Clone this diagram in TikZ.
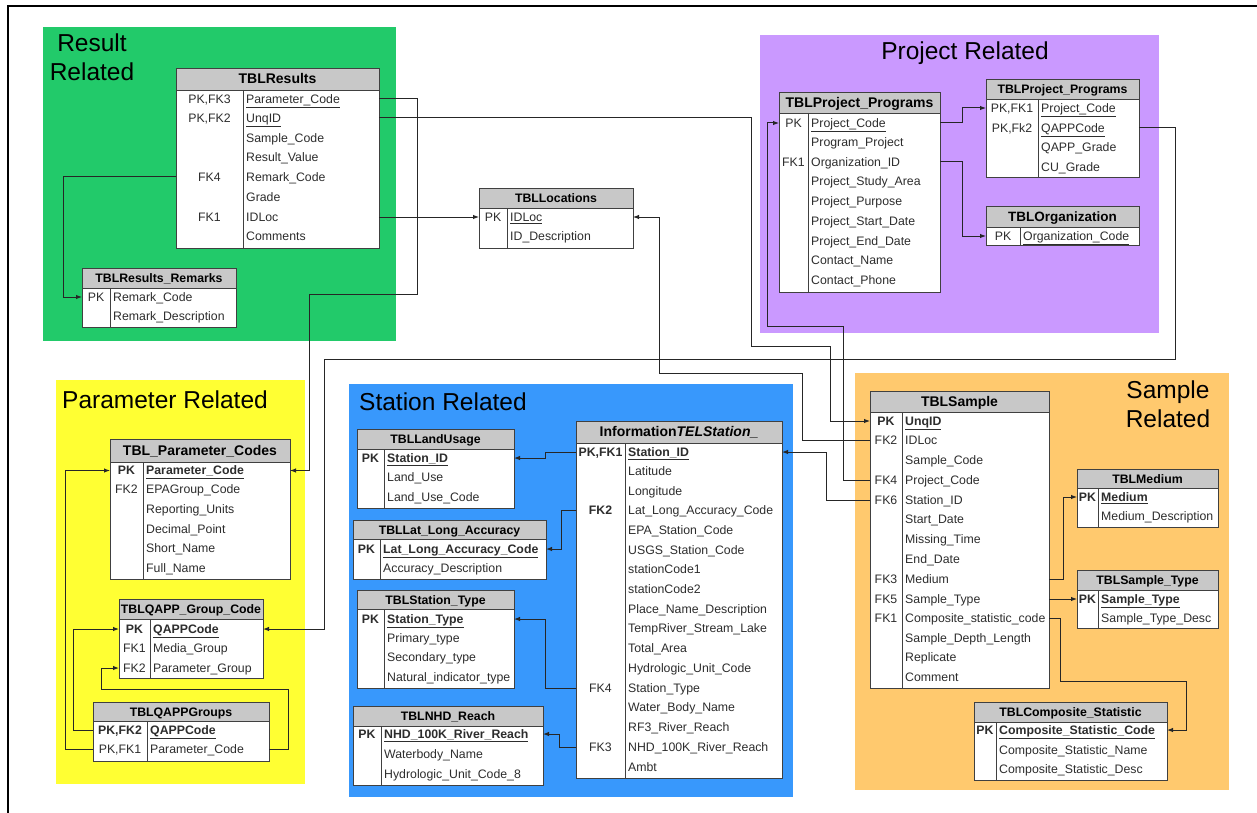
\documentclass[tikz,border=0pt]{standalone}
\usepackage{fontspec}
\setmainfont{Liberation Sans}
\usetikzlibrary{arrows.meta}
\definecolor{grpGreen}{RGB}{34,202,106}
\definecolor{grpPurple}{RGB}{202,153,255}
\definecolor{grpYellow}{RGB}{255,255,51}
\definecolor{grpBlue}{RGB}{56,152,252}
\definecolor{grpOrange}{RGB}{255,201,110}
\definecolor{hdrgray}{RGB}{200,200,200}
\definecolor{txtgray}{RGB}{45,45,45}
\tikzset{
 conn/.style={draw=black!85, line width=1pt, -{Latex[length=6pt,width=4.5pt]}},
 plainconn/.style={draw=black!85, line width=1pt},
 tabline/.style={draw=black!75, line width=0.9pt},
 rowbox/.style={inner sep=0pt, outer sep=0pt, minimum height=18pt},
 keytxt/.style={inner sep=0pt, text height=8.8pt, text depth=0pt, text=txtgray, font=\fontsize{12.3}{14}\selectfont},
 fldtxt/.style={keytxt, anchor=west},
 hdrtxt/.style={inner sep=0pt, text height=9.5pt, text depth=0pt, text=black},
 grptitle/.style={inner sep=0pt, text=black, font=\fontsize{24.5}{29}\selectfont},
}
% #1 name #2 left #3 right #4 top #5 header bottom #6 bottom #7 divider #8 header size #9 title
\newcommand{\dbtab}[9]{%
  \def\tabL{#2}\def\tabR{#3}\def\tabD{#7}%
  \fill[white] (#2,#5) rectangle (#3,#6);
  \fill[hdrgray] (#2,#4) rectangle (#3,#5);
  \draw[tabline] (#2,#5) -- (#3,#5);
  \draw[tabline] (#7,#5) -- (#7,#6);
  \draw[tabline] (#2,#4) rectangle (#3,#6);
  \node[hdrtxt, font=\bfseries\fontsize{#8}{#8}\selectfont] (#1) at ({(#2+#3)/2},{(#4+#5)/2}) {#9};
}
% #1 name #2 y #3 key #4 field
\newcommand{\dbrow}[4]{%
  \node[rowbox, minimum width={(\tabR-\tabL)*1pt}] (#1) at ({(\tabL+\tabR)/2},#2) {};
  \node[keytxt] (#1-k) at ({(\tabL+\tabD)/2},#2) {#3};
  \node[fldtxt] (#1-f) at ({\tabD+3},#2) {#4};
}
\begin{document}
\begin{tikzpicture}[x=1pt,y=-1pt]
\useasboundingbox (0,0) rectangle (1257,813);
\fill[white] (0,0) rectangle (1257,813);
\draw[line width=1.5pt] (8,813) -- (8,6) -- (1257,6);

% group backgrounds
\fill[grpGreen] (43,27) rectangle (396,341);
\fill[grpPurple] (760,35) rectangle (1159,333);
\fill[grpYellow] (56,380) rectangle (305,784);
\fill[grpBlue] (349,384) rectangle (793,797);
\fill[grpOrange] (855,373) rectangle (1229,790);

\node[grptitle, align=center] (ttl-result) at (92,57.5) {Result\\Related};
\node[grptitle] (ttl-project) at (965,53) {Project Related};
\node[grptitle, anchor=west] (ttl-param) at (62,400) {Parameter Related};
\node[grptitle, anchor=west] (ttl-station) at (359,402) {Station Related};
\node[grptitle, align=center] (ttl-sample) at (1168,404) {Sample\\Related};

% ---------- Result related
\dbtab{tResults}{176}{379}{68}{90}{248}{243}{14}{TBLResults}
\dbrow{res-pc}{99}{PK,FK3}{\underline{Parameter\_Code}}
\dbrow{res-unq}{118}{PK,FK2}{\underline{UnqID}}
\dbrow{res-sc}{138}{}{Sample\_Code}
\dbrow{res-rv}{157}{}{Result\_Value}
\dbrow{res-rc}{177}{FK4}{Remark\_Code}
\dbrow{res-gr}{197}{}{Grade}
\dbrow{res-idl}{217}{FK1}{IDLoc}
\dbrow{res-com}{236}{}{Comments}

\dbtab{tRemarks}{82}{236}{268}{288}{327}{110}{12.3}{TBLResults\_Remarks}
\dbrow{rem-rc}{297}{PK}{Remark\_Code}
\dbrow{rem-rd}{316}{}{Remark\_Description}

% ---------- Locations
\dbtab{tLoc}{479}{633}{188}{208}{248}{507}{12.3}{TBLLocations}
\dbrow{loc-id}{217}{PK}{\underline{IDLoc}}
\dbrow{loc-desc}{236}{}{ID\_Description}

% ---------- Project related
\dbtab{tPP}{779}{940}{92}{113}{292}{808}{14}{TBLProject\_Programs}
\dbrow{pp-pc}{123}{PK}{\underline{Project\_Code}}
\dbrow{pp-prog}{142}{}{Program\_Project}
\dbrow{pp-org}{162}{FK1}{Organization\_ID}
\dbrow{pp-sa}{181}{}{Project\_Study\_Area}
\dbrow{pp-pu}{201}{}{Project\_Purpose}
\dbrow{pp-sd}{221}{}{Project\_Start\_Date}
\dbrow{pp-ed}{241}{}{Project\_End\_Date}
\dbrow{pp-cn}{260}{}{Contact\_Name}
\dbrow{pp-cp}{280}{}{Contact\_Phone}

\dbtab{tPP2}{986}{1139}{79}{99}{177}{1038}{12.3}{TBLProject\_Programs}
\dbrow{pp2-pc}{108}{PK,FK1}{\underline{Project\_Code}}
\dbrow{pp2-q}{128}{PK,Fk2}{\underline{QAPPCode}}
\dbrow{pp2-qg}{147}{}{QAPP\_Grade}
\dbrow{pp2-cu}{167}{}{CU\_Grade}

\dbtab{tOrg}{986}{1139}{206}{227}{245}{1020}{13.5}{TBLOrganization}
\dbrow{org-oc}{236}{PK}{\underline{Organization\_Code}}

% ---------- Parameter related
\dbtab{tPC}{110}{290}{439}{462}{579}{143}{14}{TBL\_Parameter\_Codes}
\dbrow{pc-pc}{470.5}{\textbf{PK}}{\textbf{\underline{Parameter\_Code}}}
\dbrow{pc-epa}{489}{FK2}{EPAGroup\_Code}
\dbrow{pc-ru}{509}{}{Reporting\_Units}
\dbrow{pc-dp}{529}{}{Decimal\_Point}
\dbrow{pc-sn}{548}{}{Short\_Name}
\dbrow{pc-fn}{568}{}{Full\_Name}

\dbtab{tQG}{119}{263}{599}{619}{678}{150}{12.3}{TBLQAPP\_Group\_Code}
\dbrow{qg-q}{629}{\textbf{PK}}{\textbf{\underline{QAPPCode}}}
\dbrow{qg-mg}{648}{FK1}{Media\_Group}
\dbrow{qg-pg}{668}{FK2}{Parameter\_Group}

\dbtab{tQGS}{93}{269}{702}{721}{761}{147}{12.3}{TBLQAPPGroups}
\dbrow{qgs-q}{730}{\textbf{PK,FK2}}{\textbf{\underline{QAPPCode}}}
\dbrow{qgs-pc}{749}{PK,FK1}{Parameter\_Code}

% ---------- Station related
\dbtab{tLU}{357}{514}{429}{449}{508}{384}{12.3}{TBLLandUsage}
\dbrow{lu-sid}{458}{\textbf{PK}}{\textbf{\underline{Station\_ID}}}
\dbrow{lu-lu}{477}{}{Land\_Use}
\dbrow{lu-luc}{497}{}{Land\_Use\_Code}

\dbtab{tLLA}{353}{546}{520}{539}{579}{380}{12.3}{TBLLat\_Long\_Accuracy}
\dbrow{lla-c}{549}{\textbf{PK}}{\textbf{\underline{Lat\_Long\_Accuracy\_Code}}}
\dbrow{lla-d}{568}{}{Accuracy\_Description}

\dbtab{tST}{357}{514}{590}{609}{688}{384}{12.3}{TBLStation\_Type}
\dbrow{st-st}{619}{\textbf{PK}}{\textbf{\underline{Station\_Type}}}
\dbrow{st-pt}{638}{}{Primary\_type}
\dbrow{st-se}{657}{}{Secondary\_type}
\dbrow{st-ni}{677}{}{Natural\_indicator\_type}

\dbtab{tNHD}{353}{543}{706}{726}{785}{381}{12.3}{TBLNHD\_Reach}
\dbrow{nhd-r}{734}{\textbf{PK}}{\textbf{\underline{NHD\_100K\_River\_Reach}}}
\dbrow{nhd-wb}{754}{}{Waterbody\_Name}
\dbrow{nhd-hu}{774}{}{Hydrologic\_Unit\_Code\_8}

\dbtab{tInf}{576}{782}{421}{443}{778}{625}{14}{Information\textit{TELStation\_}}
\dbrow{inf-sid}{452}{\textbf{PK,FK1}}{\textbf{\underline{Station\_ID}}}
\dbrow{inf-lat}{471}{}{Latitude}
\dbrow{inf-lon}{491}{}{Longitude}
\dbrow{inf-lla}{510}{\textbf{FK2}}{Lat\_Long\_Accuracy\_Code}
\dbrow{inf-epa}{530}{}{EPA\_Station\_Code}
\dbrow{inf-usgs}{550}{}{USGS\_Station\_Code}
\dbrow{inf-sc1}{569}{}{stationCode1}
\dbrow{inf-sc2}{589}{}{stationCode2}
\dbrow{inf-pnd}{609}{}{Place\_Name\_Description}
\dbrow{inf-tr}{628}{}{TempRiver\_Stream\_Lake}
\dbrow{inf-ta}{648}{}{Total\_Area}
\dbrow{inf-huc}{668}{}{Hydrologic\_Unit\_Code}
\dbrow{inf-st}{688}{FK4}{Station\_Type}
\dbrow{inf-wb}{707}{}{Water\_Body\_Name}
\dbrow{inf-rf3}{727}{}{RF3\_River\_Reach}
\dbrow{inf-nhd}{747}{FK3}{NHD\_100K\_River\_Reach}
\dbrow{inf-amb}{767}{}{Ambt}

% ---------- Sample related
\dbtab{tSmp}{870}{1049}{391}{412}{688}{902}{14}{TBLSample}
\dbrow{smp-unq}{421}{\textbf{PK}}{\textbf{\underline{UnqID}}}
\dbrow{smp-idl}{440}{FK2}{IDLoc}
\dbrow{smp-sc}{460}{}{Sample\_Code}
\dbrow{smp-pc}{480}{FK4}{Project\_Code}
\dbrow{smp-sid}{500}{FK6}{Station\_ID}
\dbrow{smp-sd}{519}{}{Start\_Date}
\dbrow{smp-mt}{539}{}{Missing\_Time}
\dbrow{smp-ed}{559}{}{End\_Date}
\dbrow{smp-med}{579}{FK3}{Medium}
\dbrow{smp-st}{599}{FK5}{Sample\_Type}
\dbrow{smp-cs}{618}{FK1}{Composite\_statistic\_code}
\dbrow{smp-sdl}{638}{}{Sample\_Depth\_Length}
\dbrow{smp-rep}{657}{}{Replicate}
\dbrow{smp-com}{677}{}{Comment}

\dbtab{tMed}{1077}{1218}{469}{488}{527}{1098}{12.3}{TBLMedium}
\dbrow{med-m}{497}{\textbf{PK}}{\textbf{\underline{Medium}}}
\dbrow{med-d}{516}{}{Medium\_Description}

\dbtab{tSty}{1077}{1218}{570}{590}{628}{1098}{12.3}{TBLSample\_Type}
\dbrow{sty-st}{599}{\textbf{PK}}{\textbf{\underline{Sample\_Type}}}
\dbrow{sty-d}{618}{}{Sample\_Type\_Desc}

\dbtab{tCmp}{974}{1167}{702}{722}{780}{996}{12.3}{TBLComposite\_Statistic}
\dbrow{cmp-c}{730}{\textbf{PK}}{\textbf{\underline{Composite\_Statistic\_Code}}}
\dbrow{cmp-n}{750}{}{Composite\_Statistic\_Name}
\dbrow{cmp-d}{769}{}{Composite\_Statistic\_Desc}

% ---------- connectors
\draw[conn] (res-pc.east) -| (417,294) -- (309,294) |- (pc-pc.east);
\draw[conn] (res-unq.east) -| (751,346) -- (830,346) |- (smp-unq.west);
\draw[conn] (res-idl.east) -- (loc-id.west);
\draw[conn] (smp-idl.west) -| (802,373) -- (659,373) |- (loc-id.east);
\draw[conn] (smp-pc.west) -| (843,326) -- (767,326) |- (pp-pc.west);
\draw[conn] (smp-sid.west) -| (826,452) -- (inf-sid.east);
\draw[conn] (pp2-q.east) -| (1175,359) -- (324,359) |- (qg-q.east);
\draw[conn] (pp-pc.east) -- (962,123) |- (pp2-pc.west);
\draw[conn] (pp-org.east) -- (962,162) |- (org-oc.west);
\draw[conn] (res-rc.west) -- (63,177) |- (rem-rc.west);
\draw[conn] (inf-sid.west) -- (545,452) |- (lu-sid.east);
\draw[conn] (inf-lla.west) -- (561,510) |- (lla-c.east);
\draw[conn] (inf-st.west) -- (545,688) |- (st-st.east);
\draw[conn] (inf-nhd.west) -- (559,747) |- (nhd-r.east);
\draw[conn] (smp-med.east) -- (1063,579) |- (med-m.west);
\draw[conn] (smp-st.east) -- (sty-st.west);
\draw[conn] (smp-cs.east) -| (1060,681) -| (1186,730) -- (cmp-c.east);
\draw[conn] (qgs-pc.west) -- (65,749) |- (pc-pc.west);
\draw[conn] (qgs-q.west) -- (73,730) |- (qg-q.west);
\draw[conn] (qgs-pc.east) -| (288,689) -- (101,689) |- (qg-pg.west);
\end{tikzpicture}
\end{document}
